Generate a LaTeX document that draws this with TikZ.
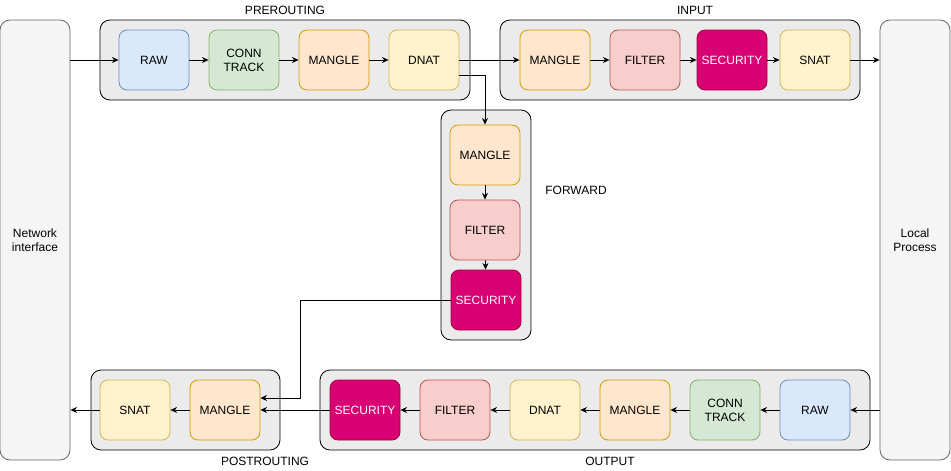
\documentclass[tikz,border=0pt]{standalone}
\usepackage{fontspec}
\setmainfont{Liberation Sans}
\usetikzlibrary{arrows.meta}
\definecolor{bluefill}{HTML}{DAE8FC}\definecolor{bluedraw}{HTML}{6C8EBF}
\definecolor{greenfill}{HTML}{D5E8D4}\definecolor{greendraw}{HTML}{82B366}
\definecolor{orangefill}{HTML}{FFE6CC}\definecolor{orangedraw}{HTML}{D79B00}
\definecolor{yellowfill}{HTML}{FFF2CC}\definecolor{yellowdraw}{HTML}{D6B656}
\definecolor{redfill}{HTML}{F8CECC}\definecolor{reddraw}{HTML}{B85450}
\definecolor{secfill}{HTML}{D80073}\definecolor{secdraw}{HTML}{A50040}
\definecolor{groupfill}{HTML}{EBEBEB}
\definecolor{panelfill}{HTML}{F5F5F5}\definecolor{paneldraw}{HTML}{666666}
\tikzset{
  chain/.style={rounded corners=6pt, minimum width=52.5pt, minimum height=45pt, inner sep=0pt, align=center, line width=0.6pt},
  raw/.style={chain, fill=bluefill, draw=bluedraw},
  conn/.style={chain, fill=greenfill, draw=greendraw},
  mangle/.style={chain, fill=orangefill, draw=orangedraw},
  nat/.style={chain, fill=yellowfill, draw=yellowdraw},
  filter/.style={chain, fill=redfill, draw=reddraw},
  secur/.style={chain, fill=secfill, draw=secdraw, text=white},
  group/.style={rounded corners=7.5pt, fill=groupfill, draw=black, line width=0.6pt},
  panel/.style={rounded corners=7.5pt, fill=panelfill, draw=paneldraw, line width=0.6pt, minimum width=52.5pt, minimum height=330pt, align=center, inner sep=0pt}
}

\begin{document}
\begin{tikzpicture}[x=0.75pt, y=-0.75pt, font=\fontsize{9}{10.5}\selectfont, >={Stealth[length=5pt,width=4.5pt]}, line width=0.6pt]
\useasboundingbox (0,0) rectangle (951,471);
% side panels
\node[panel] (net) at (35,240) {Network\\interface};
\node[panel] (local) at (915,240) {Local\\Process};

% chain groups
\draw[group] (100,20) rectangle (470,100);
\draw[group] (500,20) rectangle (860,100);
\draw[group] (441,110) rectangle (531,340);
\draw[group] (91,370) rectangle (280,450);
\draw[group] (320,370) rectangle (870,450);
\node (prelbl) at (285,10) {PREROUTING};
\node (inlbl) at (695,10) {INPUT};
\node (fwlbl) at (576,190) {FORWARD};
\node (postlbl) at (265,461) {POSTROUTING};
\node (outlbl) at (610,461) {OUTPUT};

% prerouting
\node[raw] (preraw) at (154,60) {RAW};
\node[conn] (prect) at (244,60) {CONN\\TRACK};
\node[mangle] (premangle) at (334,60) {MANGLE};
\node[nat] (prednat) at (424,60) {DNAT};
% input
\node[mangle] (inmangle) at (555,60) {MANGLE};
\node[filter] (infilter) at (645,60) {FILTER};
\node[secur] (insec) at (732,60) {SECURITY};
\node[nat] (insnat) at (815,60) {SNAT};
% forward
\node[mangle] (fwmangle) at (485,155) {MANGLE};
\node[filter] (fwfilter) at (485,230) {FILTER};
\node[secur] (fwsec) at (486,300) {SECURITY};
% postrouting
\node[nat] (postsnat) at (135,410) {SNAT};
\node[mangle] (postmangle) at (225,410) {MANGLE};
% output
\node[secur] (outsec) at (365,410) {SECURITY};
\node[filter] (outfilter) at (455,410) {FILTER};
\node[nat] (outdnat) at (545,410) {DNAT};
\node[mangle] (outmangle) at (635,410) {MANGLE};
\node[conn] (outct) at (725,410) {CONN\\TRACK};
\node[raw] (outraw) at (815,410) {RAW};

\coordinate (split) at (485,75);
\coordinate (bend) at (300,398);

% packet flow
\draw[->] (net.east |- preraw) -- (preraw);
\draw[->] (preraw) -- (prect);
\draw[->] (prect) -- (premangle);
\draw[->] (premangle) -- (prednat);
\draw[->] (prednat) -- (inmangle);
\draw[->] (inmangle) -- (infilter);
\draw[->] (infilter) -- (insec);
\draw[->] (insec) -- (insnat);
\draw[->] (insnat) -- (local.west |- insnat);
\draw[->] (prednat.east |- split) -- (split) -- (fwmangle.north);
\draw[->] (fwmangle) -- (fwfilter);
\draw[->] (fwfilter) -- (fwsec);
\draw[->] (fwsec.west) -| (bend) -- (postmangle.east |- bend);
\draw[->] (local.west |- outraw) -- (outraw);
\draw[->] (outraw) -- (outct);
\draw[->] (outct) -- (outmangle);
\draw[->] (outmangle) -- (outdnat);
\draw[->] (outdnat) -- (outfilter);
\draw[->] (outfilter) -- (outsec);
\draw[->] (outsec) -- (postmangle);
\draw[->] (postmangle) -- (postsnat);
\draw[->] (postsnat) -- (net.east |- postsnat);
\end{tikzpicture}
\end{document}
